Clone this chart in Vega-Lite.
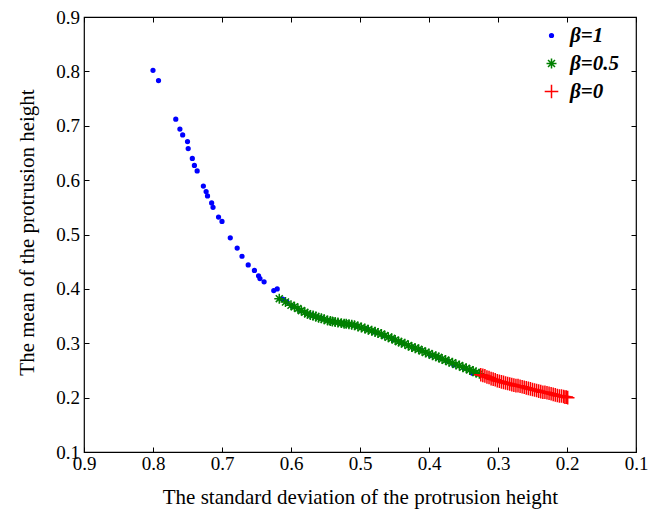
{
  "$schema": "https://vega.github.io/schema/vega-lite/v6.json",
  "width": 552,
  "height": 435,
  "autosize": {"type": "none"},
  "padding": {"left": 84, "top": 17, "right": 21, "bottom": 57},
  "background": "white",
  "config": {
    "font": "Liberation Serif",
    "view": {"stroke": "black", "strokeWidth": 1.2},
    "axis": {
      "domain": false,
      "grid": false,
      "tickColor": "black",
      "tickSize": -5,
      "tickWidth": 1,
      "labelFont": "Liberation Serif",
      "labelFontSize": 19,
      "labelColor": "black",
      "labelFlush": false,
      "labelOverlap": false,
      "titleFont": "Liberation Serif",
      "titleFontSize": 21,
      "titleFontWeight": "normal",
      "titleColor": "black"
    },
    "legend": {
      "orient": "none",
      "legendX": 457,
      "legendY": 8,
      "padding": 0,
      "labelFont": "Liberation Serif",
      "labelFontSize": 21,
      "labelFontWeight": "bold",
      "labelFontStyle": "italic",
      "labelColor": "black",
      "labelOffset": 8,
      "rowPadding": 6,
      "symbolStrokeWidth": 1.5
    }
  },
  "data": {
    "values": [
      {"sd": 0.800, "mean": 0.802, "beta": "β=1"},
      {"sd": 0.792, "mean": 0.783, "beta": "β=1"},
      {"sd": 0.767, "mean": 0.712, "beta": "β=1"},
      {"sd": 0.761, "mean": 0.694, "beta": "β=1"},
      {"sd": 0.757, "mean": 0.683, "beta": "β=1"},
      {"sd": 0.750, "mean": 0.671, "beta": "β=1"},
      {"sd": 0.749, "mean": 0.658, "beta": "β=1"},
      {"sd": 0.743, "mean": 0.640, "beta": "β=1"},
      {"sd": 0.740, "mean": 0.627, "beta": "β=1"},
      {"sd": 0.736, "mean": 0.617, "beta": "β=1"},
      {"sd": 0.727, "mean": 0.589, "beta": "β=1"},
      {"sd": 0.723, "mean": 0.579, "beta": "β=1"},
      {"sd": 0.721, "mean": 0.571, "beta": "β=1"},
      {"sd": 0.715, "mean": 0.558, "beta": "β=1"},
      {"sd": 0.713, "mean": 0.550, "beta": "β=1"},
      {"sd": 0.705, "mean": 0.532, "beta": "β=1"},
      {"sd": 0.700, "mean": 0.524, "beta": "β=1"},
      {"sd": 0.688, "mean": 0.494, "beta": "β=1"},
      {"sd": 0.678, "mean": 0.475, "beta": "β=1"},
      {"sd": 0.671, "mean": 0.460, "beta": "β=1"},
      {"sd": 0.662, "mean": 0.444, "beta": "β=1"},
      {"sd": 0.653, "mean": 0.434, "beta": "β=1"},
      {"sd": 0.647, "mean": 0.424, "beta": "β=1"},
      {"sd": 0.645, "mean": 0.419, "beta": "β=1"},
      {"sd": 0.639, "mean": 0.413, "beta": "β=1"},
      {"sd": 0.625, "mean": 0.397, "beta": "β=1"},
      {"sd": 0.620, "mean": 0.400, "beta": "β=1"},
      {"sd": 0.612, "mean": 0.381, "beta": "β=1"},
      {"sd": 0.606, "mean": 0.376, "beta": "β=1"},
      {"sd": 0.598, "mean": 0.368, "beta": "β=1"},
      {"sd": 0.586, "mean": 0.360, "beta": "β=1"},
      {"sd": 0.572, "mean": 0.352, "beta": "β=1"},
      {"sd": 0.556, "mean": 0.346, "beta": "β=1"},
      {"sd": 0.540, "mean": 0.340, "beta": "β=1"},
      {"sd": 0.522, "mean": 0.336, "beta": "β=1"},
      {"sd": 0.505, "mean": 0.332, "beta": "β=1"},
      {"sd": 0.490, "mean": 0.326, "beta": "β=1"},
      {"sd": 0.479, "mean": 0.321, "beta": "β=1"},
      {"sd": 0.465, "mean": 0.314, "beta": "β=1"},
      {"sd": 0.452, "mean": 0.307, "beta": "β=1"},
      {"sd": 0.438, "mean": 0.300, "beta": "β=1"},
      {"sd": 0.424, "mean": 0.293, "beta": "β=1"},
      {"sd": 0.411, "mean": 0.287, "beta": "β=1"},
      {"sd": 0.398, "mean": 0.278, "beta": "β=1"},
      {"sd": 0.385, "mean": 0.273, "beta": "β=1"},
      {"sd": 0.374, "mean": 0.268, "beta": "β=1"},
      {"sd": 0.364, "mean": 0.260, "beta": "β=1"},
      {"sd": 0.350, "mean": 0.255, "beta": "β=1"},
      {"sd": 0.337, "mean": 0.245, "beta": "β=1"},

      {"sd": 0.617, "mean": 0.382, "beta": "β=0.5"},
      {"sd": 0.608, "mean": 0.376, "beta": "β=0.5"},
      {"sd": 0.600, "mean": 0.370, "beta": "β=0.5"},
      {"sd": 0.595, "mean": 0.367, "beta": "β=0.5"},
      {"sd": 0.590, "mean": 0.364, "beta": "β=0.5"},
      {"sd": 0.585, "mean": 0.360, "beta": "β=0.5"},
      {"sd": 0.580, "mean": 0.357, "beta": "β=0.5"},
      {"sd": 0.576, "mean": 0.354, "beta": "β=0.5"},
      {"sd": 0.572, "mean": 0.352, "beta": "β=0.5"},
      {"sd": 0.568, "mean": 0.351, "beta": "β=0.5"},
      {"sd": 0.564, "mean": 0.349, "beta": "β=0.5"},
      {"sd": 0.560, "mean": 0.347, "beta": "β=0.5"},
      {"sd": 0.556, "mean": 0.346, "beta": "β=0.5"},
      {"sd": 0.552, "mean": 0.344, "beta": "β=0.5"},
      {"sd": 0.547, "mean": 0.342, "beta": "β=0.5"},
      {"sd": 0.543, "mean": 0.341, "beta": "β=0.5"},
      {"sd": 0.540, "mean": 0.340, "beta": "β=0.5"},
      {"sd": 0.536, "mean": 0.339, "beta": "β=0.5"},
      {"sd": 0.532, "mean": 0.338, "beta": "β=0.5"},
      {"sd": 0.527, "mean": 0.337, "beta": "β=0.5"},
      {"sd": 0.523, "mean": 0.336, "beta": "β=0.5"},
      {"sd": 0.520, "mean": 0.336, "beta": "β=0.5"},
      {"sd": 0.516, "mean": 0.335, "beta": "β=0.5"},
      {"sd": 0.512, "mean": 0.334, "beta": "β=0.5"},
      {"sd": 0.508, "mean": 0.333, "beta": "β=0.5"},
      {"sd": 0.503, "mean": 0.331, "beta": "β=0.5"},
      {"sd": 0.498, "mean": 0.329, "beta": "β=0.5"},
      {"sd": 0.493, "mean": 0.327, "beta": "β=0.5"},
      {"sd": 0.488, "mean": 0.325, "beta": "β=0.5"},
      {"sd": 0.483, "mean": 0.323, "beta": "β=0.5"},
      {"sd": 0.478, "mean": 0.321, "beta": "β=0.5"},
      {"sd": 0.474, "mean": 0.319, "beta": "β=0.5"},
      {"sd": 0.469, "mean": 0.317, "beta": "β=0.5"},
      {"sd": 0.464, "mean": 0.314, "beta": "β=0.5"},
      {"sd": 0.459, "mean": 0.311, "beta": "β=0.5"},
      {"sd": 0.454, "mean": 0.309, "beta": "β=0.5"},
      {"sd": 0.449, "mean": 0.306, "beta": "β=0.5"},
      {"sd": 0.444, "mean": 0.303, "beta": "β=0.5"},
      {"sd": 0.440, "mean": 0.301, "beta": "β=0.5"},
      {"sd": 0.435, "mean": 0.299, "beta": "β=0.5"},
      {"sd": 0.430, "mean": 0.296, "beta": "β=0.5"},
      {"sd": 0.425, "mean": 0.293, "beta": "β=0.5"},
      {"sd": 0.420, "mean": 0.291, "beta": "β=0.5"},
      {"sd": 0.415, "mean": 0.289, "beta": "β=0.5"},
      {"sd": 0.410, "mean": 0.286, "beta": "β=0.5"},
      {"sd": 0.405, "mean": 0.283, "beta": "β=0.5"},
      {"sd": 0.400, "mean": 0.281, "beta": "β=0.5"},
      {"sd": 0.395, "mean": 0.278, "beta": "β=0.5"},
      {"sd": 0.390, "mean": 0.276, "beta": "β=0.5"},
      {"sd": 0.386, "mean": 0.274, "beta": "β=0.5"},
      {"sd": 0.381, "mean": 0.271, "beta": "β=0.5"},
      {"sd": 0.376, "mean": 0.269, "beta": "β=0.5"},
      {"sd": 0.371, "mean": 0.266, "beta": "β=0.5"},
      {"sd": 0.366, "mean": 0.264, "beta": "β=0.5"},
      {"sd": 0.361, "mean": 0.261, "beta": "β=0.5"},
      {"sd": 0.356, "mean": 0.259, "beta": "β=0.5"},
      {"sd": 0.351, "mean": 0.256, "beta": "β=0.5"},
      {"sd": 0.346, "mean": 0.254, "beta": "β=0.5"},
      {"sd": 0.341, "mean": 0.251, "beta": "β=0.5"},
      {"sd": 0.336, "mean": 0.249, "beta": "β=0.5"},
      {"sd": 0.332, "mean": 0.246, "beta": "β=0.5"},
      {"sd": 0.327, "mean": 0.244, "beta": "β=0.5"},

      {"sd": 0.325, "mean": 0.242, "beta": "β=0"},
      {"sd": 0.322, "mean": 0.241, "beta": "β=0"},
      {"sd": 0.319, "mean": 0.240, "beta": "β=0"},
      {"sd": 0.316, "mean": 0.238, "beta": "β=0"},
      {"sd": 0.313, "mean": 0.237, "beta": "β=0"},
      {"sd": 0.310, "mean": 0.235, "beta": "β=0"},
      {"sd": 0.307, "mean": 0.234, "beta": "β=0"},
      {"sd": 0.304, "mean": 0.233, "beta": "β=0"},
      {"sd": 0.301, "mean": 0.231, "beta": "β=0"},
      {"sd": 0.298, "mean": 0.230, "beta": "β=0"},
      {"sd": 0.295, "mean": 0.229, "beta": "β=0"},
      {"sd": 0.292, "mean": 0.228, "beta": "β=0"},
      {"sd": 0.289, "mean": 0.227, "beta": "β=0"},
      {"sd": 0.286, "mean": 0.226, "beta": "β=0"},
      {"sd": 0.283, "mean": 0.225, "beta": "β=0"},
      {"sd": 0.280, "mean": 0.224, "beta": "β=0"},
      {"sd": 0.277, "mean": 0.223, "beta": "β=0"},
      {"sd": 0.274, "mean": 0.222, "beta": "β=0"},
      {"sd": 0.271, "mean": 0.222, "beta": "β=0"},
      {"sd": 0.268, "mean": 0.221, "beta": "β=0"},
      {"sd": 0.265, "mean": 0.220, "beta": "β=0"},
      {"sd": 0.262, "mean": 0.219, "beta": "β=0"},
      {"sd": 0.259, "mean": 0.218, "beta": "β=0"},
      {"sd": 0.256, "mean": 0.217, "beta": "β=0"},
      {"sd": 0.253, "mean": 0.216, "beta": "β=0"},
      {"sd": 0.250, "mean": 0.215, "beta": "β=0"},
      {"sd": 0.247, "mean": 0.214, "beta": "β=0"},
      {"sd": 0.244, "mean": 0.213, "beta": "β=0"},
      {"sd": 0.241, "mean": 0.212, "beta": "β=0"},
      {"sd": 0.238, "mean": 0.211, "beta": "β=0"},
      {"sd": 0.235, "mean": 0.210, "beta": "β=0"},
      {"sd": 0.232, "mean": 0.210, "beta": "β=0"},
      {"sd": 0.229, "mean": 0.209, "beta": "β=0"},
      {"sd": 0.226, "mean": 0.208, "beta": "β=0"},
      {"sd": 0.223, "mean": 0.207, "beta": "β=0"},
      {"sd": 0.220, "mean": 0.206, "beta": "β=0"},
      {"sd": 0.217, "mean": 0.205, "beta": "β=0"},
      {"sd": 0.214, "mean": 0.204, "beta": "β=0"},
      {"sd": 0.211, "mean": 0.203, "beta": "β=0"},
      {"sd": 0.208, "mean": 0.203, "beta": "β=0"},
      {"sd": 0.205, "mean": 0.202, "beta": "β=0"},
      {"sd": 0.203, "mean": 0.201, "beta": "β=0"},
      {"sd": 0.201, "mean": 0.201, "beta": "β=0"},
      {"sd": 0.199, "mean": 0.200, "beta": "β=0"}
    ]
  },
  "layer": [
    {
      "mark": {"type": "point", "filled": false, "strokeWidth": 1.5, "opacity": 1},
      "encoding": {
        "x": {
          "field": "sd", "type": "quantitative",
          "scale": {"domain": [0.1, 0.9], "reverse": true, "nice": false, "zero": false},
          "axis": {
            "orient": "bottom",
            "values": [0.1, 0.2, 0.3, 0.4, 0.5, 0.6, 0.7, 0.8, 0.9],
            "format": ".1f",
            "labelFont": "Liberation Serif",
            "labelPadding": 7,
            "title": "The standard deviation of the protrusion height",
            "titleFont": "Liberation Serif",
            "titleX": 276,
            "titleY": 51.5,
            "titleBaseline": "alphabetic",
            "titleAlign": "center",
            "titleAnchor": null
          }
        },
        "y": {
          "field": "mean", "type": "quantitative",
          "scale": {"domain": [0.1, 0.9], "nice": false, "zero": false},
          "axis": {
            "orient": "left",
            "values": [0.1, 0.2, 0.3, 0.4, 0.5, 0.6, 0.7, 0.8, 0.9],
            "format": ".1f",
            "labelFont": "Liberation Serif",
            "labelPadding": 9.5,
            "title": "The mean of the protrusion height",
            "titleFont": "Liberation Serif",
            "titleX": -51,
            "titleY": 215,
            "titleAngle": -90,
            "titleBaseline": "alphabetic",
            "titleAlign": "center",
            "titleAnchor": null
          }
        },
        "shape": {
          "field": "beta", "type": "nominal",
          "scale": {
            "domain": ["β=1", "β=0.5", "β=0"],
            "range": [
              "M-1,0A1,1 0 1,0 1,0A1,1 0 1,0 -1,0M-0.5,0A0.5,0.5 0 1,0 0.5,0A0.5,0.5 0 1,0 -0.5,0M-0.15,0L0.15,0",
              "M-1,0L1,0M0,-1L0,1M-0.7,-0.7L0.7,0.7M-0.7,0.7L0.7,-0.7",
              "M-1,0L1,0M0,-1L0,1"
            ]
          },
          "legend": {"title": null, "labelFont": "Liberation Serif"}
        },
        "color": {
          "field": "beta", "type": "nominal",
          "scale": {"domain": ["β=1", "β=0.5", "β=0"], "range": ["#0000ff", "#008000", "#ff0000"]},
          "legend": {"title": null, "labelFont": "Liberation Serif"}
        },
        "size": {
          "field": "beta", "type": "nominal",
          "scale": {"domain": ["β=1", "β=0.5", "β=0"], "range": [14, 185, 210]},
          "legend": {"title": null, "labelFont": "Liberation Serif"}
        }
      }
    },
    {
      "mark": {"type": "point", "opacity": 0},
      "encoding": {
        "x": {
          "field": "sd", "type": "quantitative",
          "scale": {"domain": [0.1, 0.9], "reverse": true, "nice": false, "zero": false},
          "axis": {"orient": "top", "values": [0.1, 0.2, 0.3, 0.4, 0.5, 0.6, 0.7, 0.8, 0.9], "labels": false, "title": null}
        },
        "y": {
          "field": "mean", "type": "quantitative",
          "scale": {"domain": [0.1, 0.9], "nice": false, "zero": false},
          "axis": {"orient": "right", "values": [0.1, 0.2, 0.3, 0.4, 0.5, 0.6, 0.7, 0.8, 0.9], "labels": false, "title": null}
        }
      }
    }
  ],
  "resolve": {"axis": {"x": "independent", "y": "independent"}}
}
